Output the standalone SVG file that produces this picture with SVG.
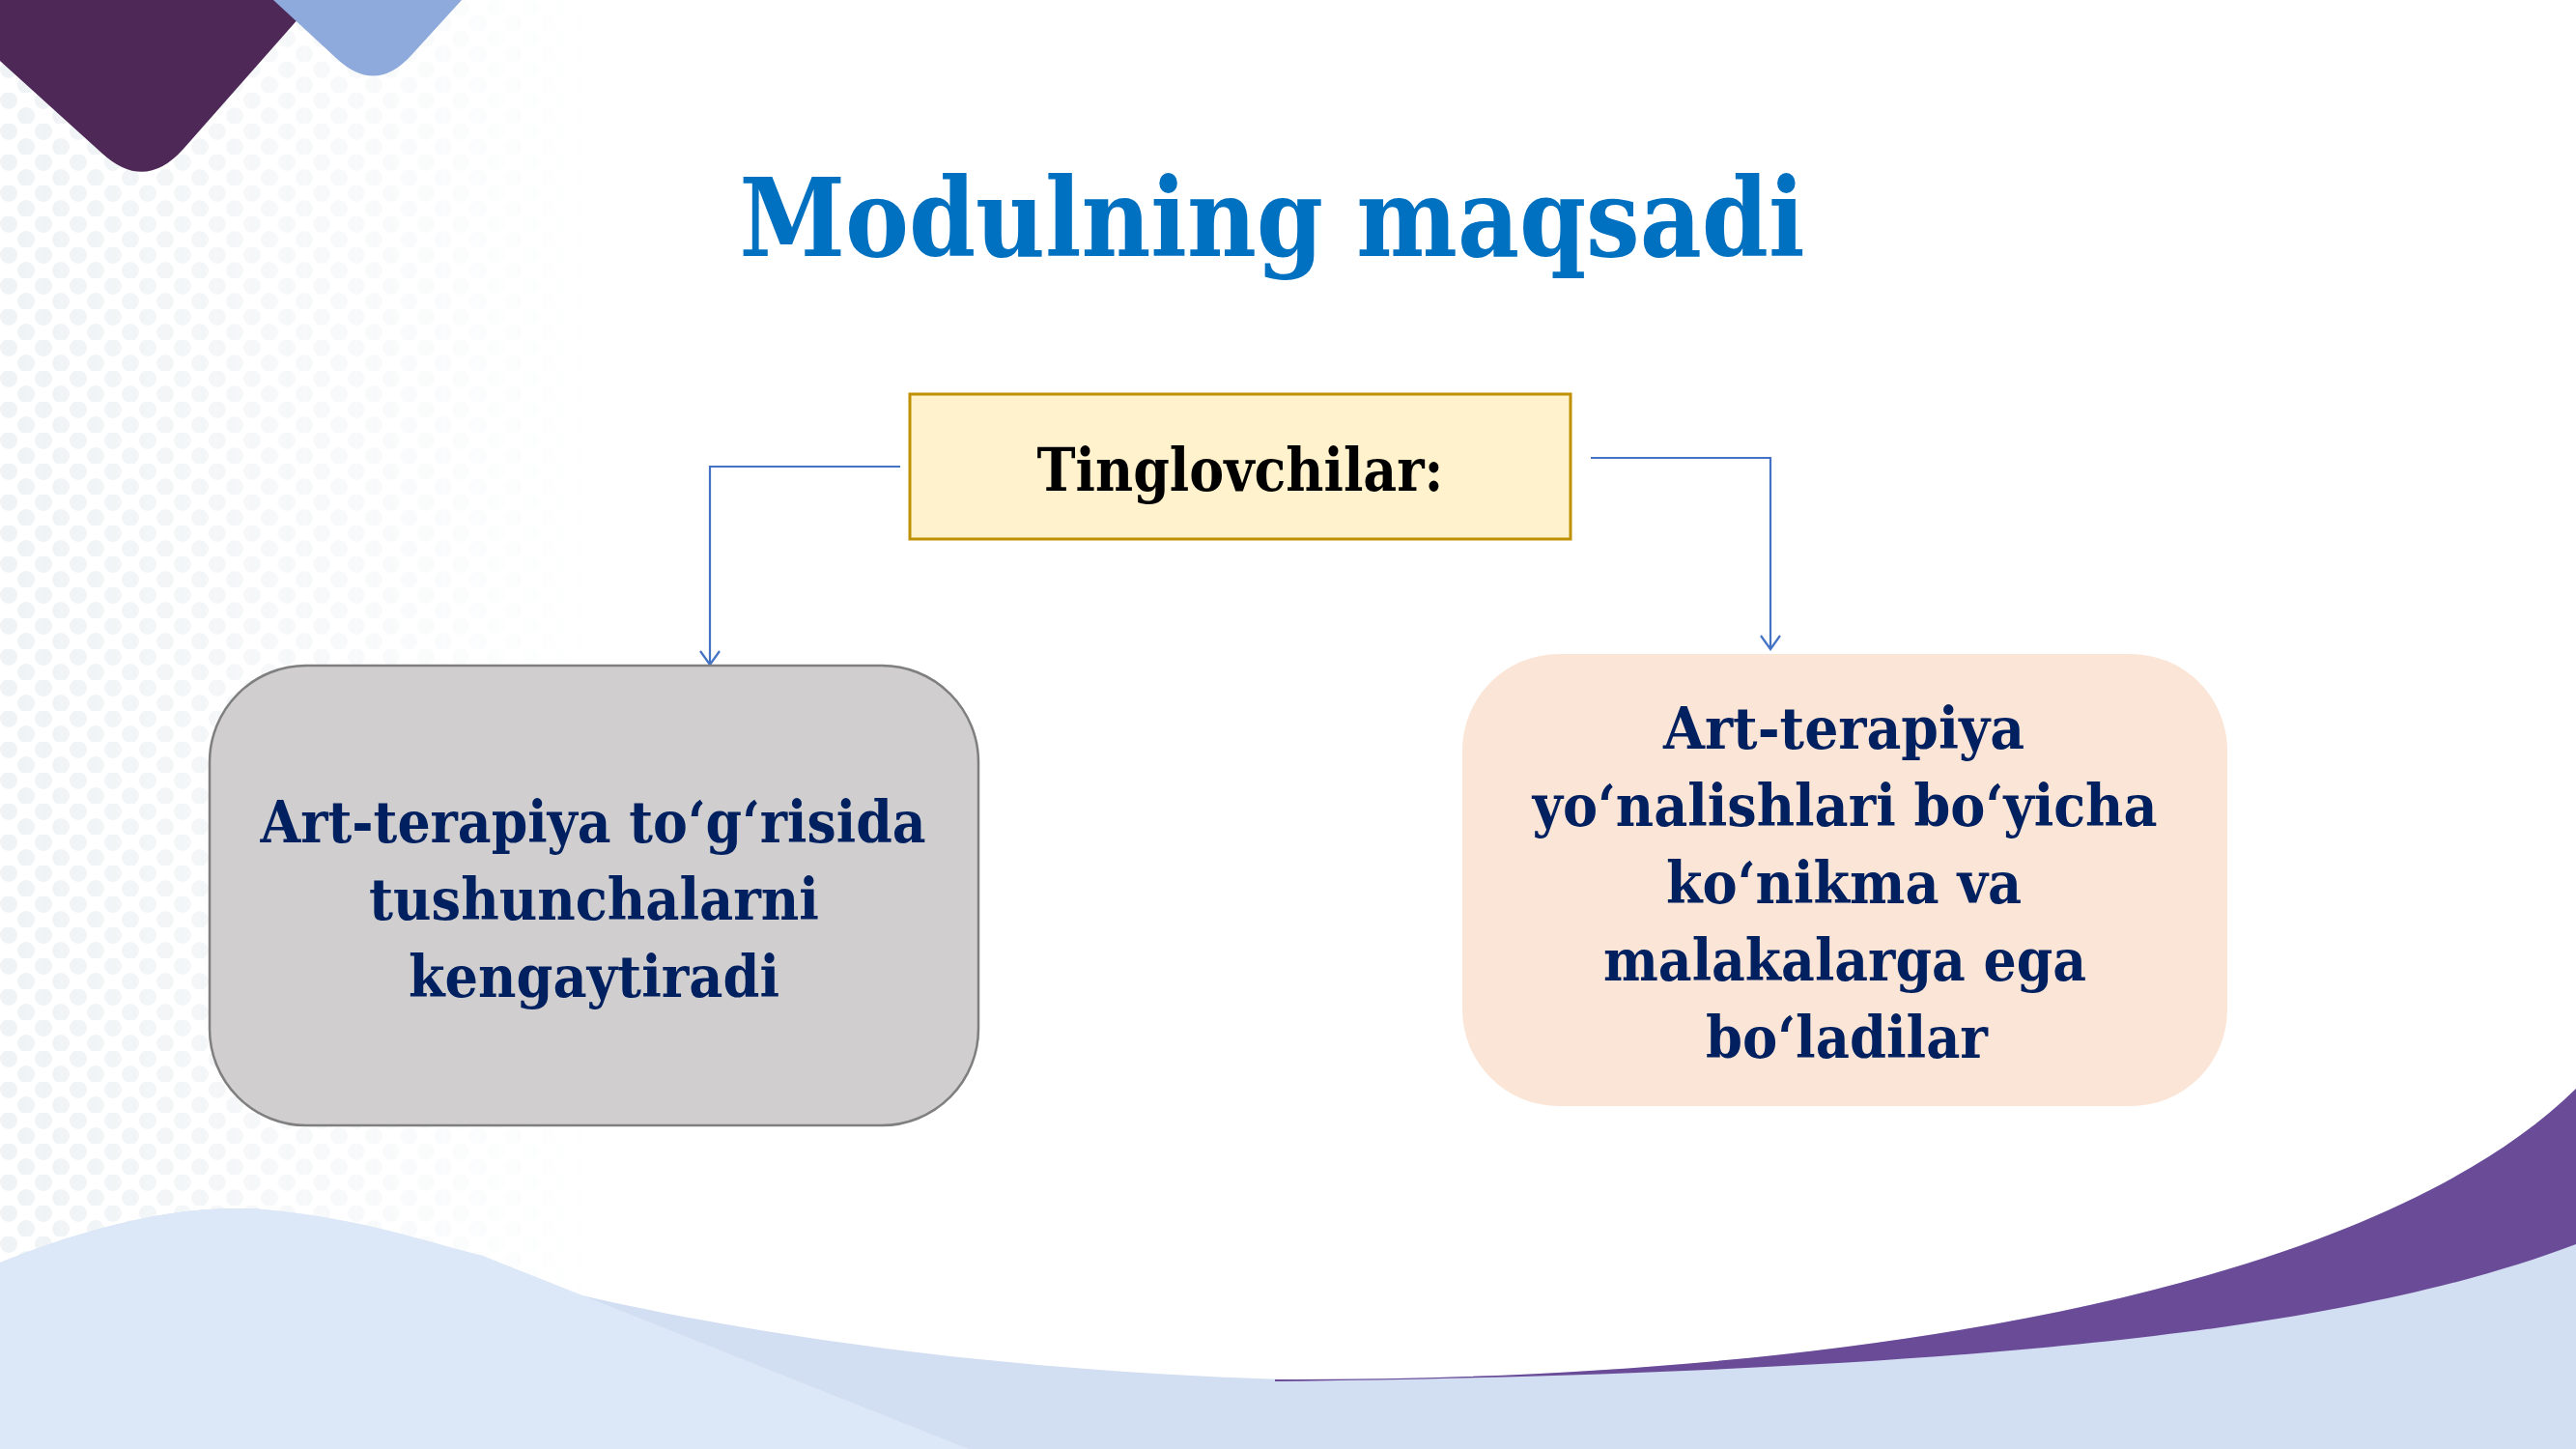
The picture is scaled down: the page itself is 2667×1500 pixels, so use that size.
<svg xmlns="http://www.w3.org/2000/svg" width="2667" height="1500" viewBox="0 0 2667 1500">
<defs>
<style>
.body{font-family:"DejaVu Serif Condensed","DejaVu Serif","Liberation Serif",serif;font-weight:bold;fill:#002060;text-anchor:middle;font-size:59px}
.title{font-family:"DejaVu Serif Condensed","DejaVu Serif","Liberation Serif",serif;font-weight:bold;fill:#0070C0;text-anchor:middle;font-size:112px}
.head{font-family:"DejaVu Serif Condensed","DejaVu Serif","Liberation Serif",serif;font-weight:bold;fill:#000000;text-anchor:middle;font-size:62px}
.conn{fill:none;stroke:#4472C4;stroke-width:2.2}
</style>
<marker id="arr" viewBox="0 0 22 22" refX="20" refY="11" markerWidth="22" markerHeight="22" markerUnits="userSpaceOnUse" orient="auto">
<path d="M6,1 L20,11 L6,21" fill="none" stroke="#4472C4" stroke-width="2.2"/>
</marker>
<pattern id="dots" width="36" height="32" patternUnits="userSpaceOnUse">
<circle cx="9" cy="8" r="9" fill="#E6ECEF"/>
<circle cx="27" cy="24" r="9" fill="#E6ECEF"/>
</pattern>
<linearGradient id="fadeX" x1="0" y1="0" x2="1" y2="0">
<stop offset="0" stop-color="#fff" stop-opacity="0.9"/>
<stop offset="0.55" stop-color="#fff" stop-opacity="0.45"/>
<stop offset="1" stop-color="#fff" stop-opacity="0"/>
</linearGradient>
<mask id="dotMask">
<rect x="0" y="0" width="620" height="1500" fill="url(#fadeX)"/>
</mask>
</defs>

<g id="background">
<rect x="0" y="0" width="2667" height="1500" fill="#FFFFFF"/>
<rect x="0" y="0" width="620" height="1500" fill="url(#dots)" mask="url(#dotMask)" opacity="0.7"/>
<path d="M0,0 L326,0 L190,154 Q150,199 106,159 L0,63 Z" fill="#4E2957"/>
<path d="M283,0 L478,0 L426,57 Q389,98 349,61 Z" fill="#8EA9DB"/>
<path d="M0,1307 C80,1275 180,1245 272,1252 C380,1262 470,1310 620,1345 C800,1385 1050,1420 1330,1428 C1900,1430 2450,1340 2667,1127 L2667,1500 L0,1500 Z" fill="#D2DEF1"/>
<path d="M0,1307 C80,1275 180,1245 272,1252 C370,1260 440,1285 500,1300 L1003,1500 L0,1500 Z" fill="#DCE8F8"/>
<path d="M1320,1428 C1900,1430 2450,1340 2667,1127 L2667,1288 C2450,1370 2100,1420 1320,1430 Z" fill="#6A4B98"/>
</g>

<g id="title">
<text class="title" x="1317" y="265" textLength="1103" lengthAdjust="spacingAndGlyphs">Modulning maqsadi</text>
</g>

<g id="connectors">
<path class="conn" d="M932,483 L735,483 L735,688" marker-end="url(#arr)"/>
<path class="conn" d="M1647,474 L1833,474 L1833,672" marker-end="url(#arr)"/>
</g>

<g id="node-tinglovchilar">
<rect x="942" y="408" width="684" height="150" fill="#FFF2CC" stroke="#BF9000" stroke-width="3"/>
<text class="head" x="1284" y="508" textLength="421" lengthAdjust="spacingAndGlyphs">Tinglovchilar:</text>
</g>

<g id="node-left">
<rect x="217" y="689" width="796" height="476" rx="100" ry="100" fill="#D0CECE" stroke="#7F7F7F" stroke-width="2.5"/>
<text class="body" x="614" y="872" textLength="689" lengthAdjust="spacingAndGlyphs">Art-terapiya to‘g‘risida</text>
<text class="body" x="615" y="952" textLength="466" lengthAdjust="spacingAndGlyphs">tushunchalarni</text>
<text class="body" x="615" y="1032" textLength="384" lengthAdjust="spacingAndGlyphs">kengaytiradi</text>
</g>

<g id="node-right">
<rect x="1514" y="677" width="792" height="468" rx="100" ry="100" fill="#FBE5D6"/>
<text class="body" x="1909" y="775" textLength="374" lengthAdjust="spacingAndGlyphs">Art-terapiya</text>
<text class="body" x="1910" y="855" textLength="647" lengthAdjust="spacingAndGlyphs">yo‘nalishlari bo‘yicha</text>
<text class="body" x="1909" y="935" textLength="368" lengthAdjust="spacingAndGlyphs">ko‘nikma va</text>
<text class="body" x="1910" y="1015" textLength="500" lengthAdjust="spacingAndGlyphs">malakalarga ega</text>
<text class="body" x="1912" y="1095" textLength="292" lengthAdjust="spacingAndGlyphs">bo‘ladilar</text>
</g>
</svg>
